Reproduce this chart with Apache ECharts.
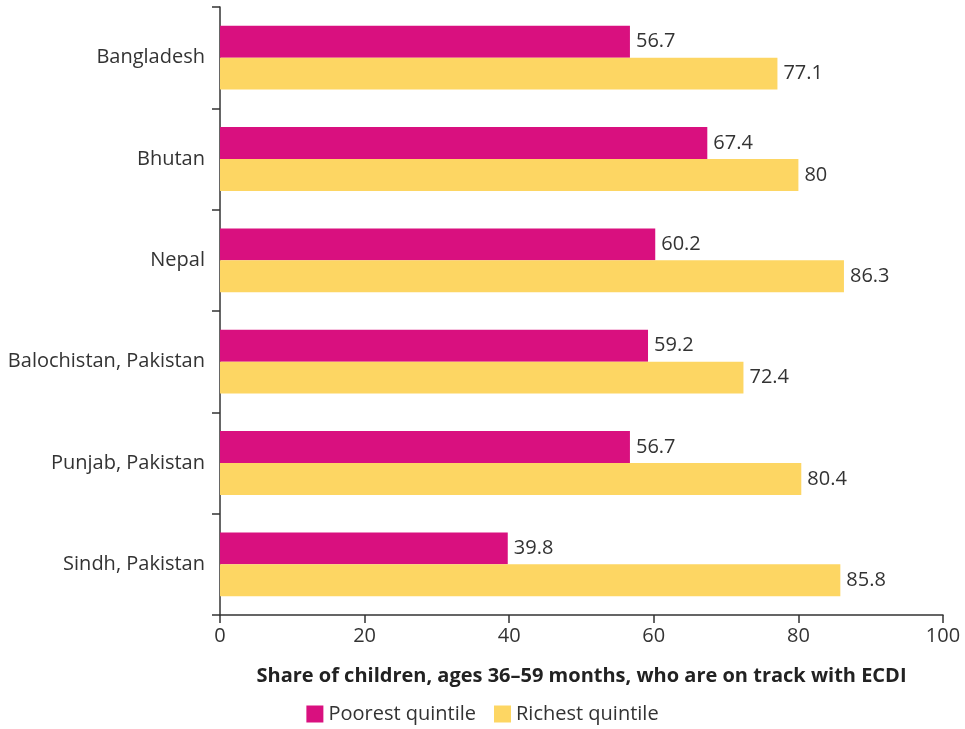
<!DOCTYPE html>
<html><head><meta charset="utf-8">
<script src="https://cdn.jsdelivr.net/npm/echarts@6/dist/echarts.min.js"></script>
<style>html,body{margin:0;padding:0;background:#fff}#c{width:965px;height:729px}</style>
</head><body><div id="c"></div>
<script>
const categories = ["Bangladesh","Bhutan","Nepal","Balochistan, Pakistan","Punjab, Pakistan","Sindh, Pakistan"];
const poorest = [56.7,67.4,60.2,59.2,56.7,39.8];
const richest = [77.1,80,86.3,72.4,80.4,85.8];
const xTicks = {min:0,max:100,interval:20};
const seriesNames = ["Poorest quintile","Richest quintile"];
const axisTitle = "Share of children, ages 36\u201359 months, who are on track with ECDI";

const chart = echarts.init(document.getElementById('c'));
const font = '"Open Sans", sans-serif';
const lbl = {show:true,position:'right',distance:6,fontSize:20,color:'#333',fontFamily:font};
chart.setOption({
  animation:false,
  textStyle:{fontFamily:font},
  grid:{left:220,right:22,top:7,bottom:114,containLabel:false},
  legend:{bottom:0,left:'center',itemWidth:17,itemHeight:17,itemGap:18,icon:'rect',
    textStyle:{fontSize:20,color:'#333',fontFamily:font},data:seriesNames},
  xAxis:{type:'value',min:xTicks.min,max:xTicks.max,interval:xTicks.interval,
    name:axisTitle,nameLocation:'middle',nameGap:51,
    nameTextStyle:{fontSize:20,fontWeight:'bold',color:'#222',fontFamily:font},
    splitLine:{show:false},
    axisLine:{show:true,lineStyle:{color:'#333',width:1.5}},
    axisTick:{show:true,length:8,lineStyle:{color:'#333',width:1.5}},
    axisLabel:{fontSize:20,color:'#333',margin:11,fontFamily:font}},
  yAxis:{type:'category',data:categories,inverse:true,
    axisLine:{show:true,lineStyle:{color:'#333',width:1.5}},
    axisTick:{show:true,length:8,lineStyle:{color:'#333',width:1.5}},
    axisLabel:{fontSize:20,color:'#333',margin:15,fontFamily:font}},
  series:[
    {name:seriesNames[0],type:'bar',data:poorest,itemStyle:{color:'#D9107F'},barGap:'0%',barCategoryGap:'37%',label:lbl},
    {name:seriesNames[1],type:'bar',data:richest,itemStyle:{color:'#FDD663'},barGap:'0%',barCategoryGap:'37%',label:lbl}
  ]
});
</script></body></html>
